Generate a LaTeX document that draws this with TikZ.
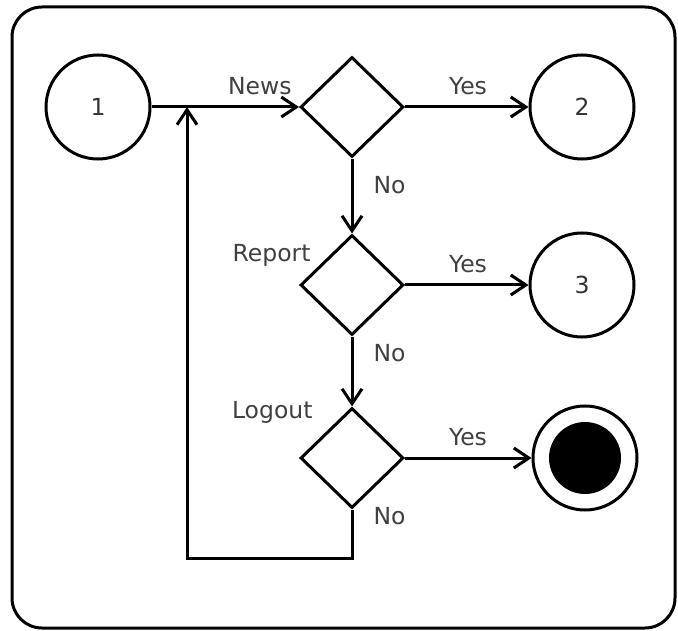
\documentclass[tikz,border=0pt]{standalone}
\usepackage{fontspec}
\setmainfont{DejaVu Sans}
\usetikzlibrary{positioning,shapes.geometric,arrows.meta}

\tikzset{
	state/.style={circle,draw,minimum size=104pt,inner sep=0pt,font=\fontsize{23.5}{28}\selectfont,text=black!80},
	choice/.style={diamond,draw,minimum width=103pt,minimum height=100pt,inner sep=0pt},
	lbl/.style={font=\fontsize{23.5}{28}\selectfont,text=black!75,inner sep=0pt},
	flow/.style={-{Straight Barb[length=15pt,width=20pt]}}
}

\begin{document}
\begin{tikzpicture}[x=1pt,y=-1pt,line width=3pt]
	\useasboundingbox (0,0) rectangle (678,631);
	
	% rahmen
	\draw[rounded corners=30pt] (12,7) rectangle (675,628);
	
	% zustaende und entscheidungen
	\node[state] (s1) at (98,107) {1};
	\node[choice] (dNews) at (352,107) {};
	\node[state] (s2) at (582,107) {2};
	\node[choice] (dReport) at (352,285) {};
	\node[state] (s3) at (582,285) {3};
	\node[choice] (dLogout) at (352,458) {};
	\node[state] (fin) at (585,458) {};
	\node[circle,fill,minimum size=72pt,inner sep=0pt] (finDot) at (fin) {};
	
	% uebergaenge
	\coordinate (loopIn) at (187,107);
	\coordinate (loopCorner) at (187,558);
	\draw[flow] (s1) -- (dNews);
	\draw[flow] (dNews) -- (s2);
	\draw[flow] (dNews) -- (dReport);
	\draw[flow] (dReport) -- (s3);
	\draw[flow] (dReport) -- (dLogout);
	\draw[flow] (dLogout) -- (fin);
	\draw[flow] (dLogout.south) |- (loopCorner) -- (loopIn);
	
	% beschriftungen
	\node[lbl,anchor=base east] (tNews) at (293,95) {News};
	\node[lbl,anchor=base] (tYes1) at (468,95) {Yes};
	\node[lbl,anchor=base west] (tNo1) at (372,194) {No};
	\node[lbl,anchor=base east] (tReport) at (312,262) {Report};
	\node[lbl,anchor=base] (tYes2) at (468,273) {Yes};
	\node[lbl,anchor=base west] (tNo2) at (372,361) {No};
	\node[lbl,anchor=base east] (tLogout) at (314,418) {Logout};
	\node[lbl,anchor=base] (tYes3) at (468,445) {Yes};
	\node[lbl,anchor=base west] (tNo3) at (372,524) {No};
\end{tikzpicture}
\end{document}
